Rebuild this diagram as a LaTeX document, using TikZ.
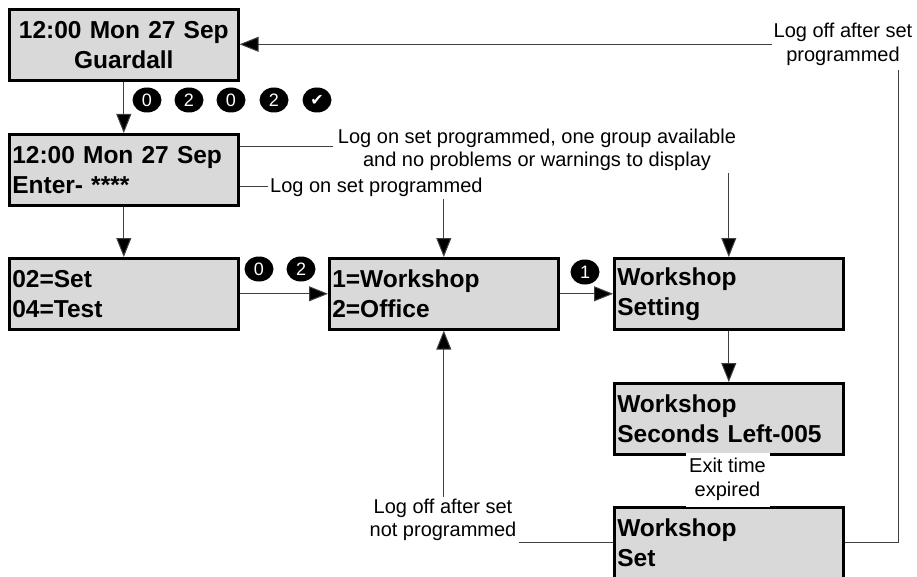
\documentclass[tikz,border=0pt]{standalone}
\usepackage{fontspec}
\setmainfont{Liberation Sans}
\newfontfamily\symfont{DejaVu Sans}
\usetikzlibrary{arrows.meta,shapes.geometric,calc}
\definecolor{boxgray}{HTML}{D9D9D9}
\definecolor{linegray}{HTML}{404040}
\begin{document}
\begin{tikzpicture}[x=1pt,y=-1pt,
  lcd/.style={draw=black, line width=2.6pt, fill=boxgray, minimum width=229pt, minimum height=71pt,
    text width=223pt, inner xsep=3pt, inner ysep=0pt, align=left,
    font=\fontsize{24.5}{30}\selectfont\bfseries, anchor=north west},
  lab/.style={font=\fontsize{20}{23.5}\selectfont, align=center, inner sep=2pt},
  conn/.style={draw=linegray, line width=1pt},
  arr/.style={conn, -{Triangle[length=19pt,width=15pt,fill=black]}},
  key/.style={ellipse, fill=black, text=white, minimum width=29pt, minimum height=25pt,
    inner sep=0pt, font=\fontsize{18}{18}\selectfont}
]
\useasboundingbox (0,0) rectangle (917,577);

% display boxes
\node[lcd, align=center] (b1) at (8,8) {12:00 Mon 27 Sep\\Guardall};
\node[lcd] (b2) at (8,133) {12:00 Mon 27 Sep\\Enter- ****};
\node[lcd] (b3) at (8,257) {02=Set\\04=Test};
\node[lcd] (b4) at (328,257) {1=Workshop\\2=Office};
\node[lcd] (b5) at (613,257) {Workshop\\Setting};
\node[lcd] (b6) at (613,382) {Workshop\\Seconds Left-005};
\node[lcd] (b7) at (613,506) {Workshop\\Set};

% labels
\node[lab] (l1) at (843,44.3) {Log off after set\\programmed};
\node[lab] (l2) at (537,149.8) {Log on set programmed, one group available\\and no problems or warnings to display};
\node[lab, anchor=west] (l3) at (268,187) {Log on set programmed};
\node[lab] (l4) at (443,519.8) {Log off after set\\not programmed};
\node[lab, fill=white, minimum width=84pt, minimum height=54pt] (l5) at (727.5,479.5) {Exit time\\expired};

% keys
\node[key] (k1) at (147,100) {0};
\node[key] (k2) at (189,100) {2};
\node[key] (k3) at (231,100) {0};
\node[key] (k4) at (274,100) {2};
\node[key] (k5) at (317,100) {\symfont\fontsize{16}{16}\selectfont ✔};
\node[key] (k6) at (259,269) {0};
\node[key] (k7) at (301,269) {2};
\node[key] (k8) at (585,272) {1};

% connectors
\draw[arr] (b1) -- (b2);
\draw[arr] (b2) -- (b3);
\draw[arr] (b3) -- (b4);
\draw[arr] (b4) -- (b5);
\draw[arr] (b5) -- (b6);
\draw[conn] (b2.east |- l3.west) -- (l3.west);
\draw[arr] (l3.south -| b4.north) -- (b4.north);
\draw[conn] ($(b2.north east)+(0,14)$) -- ($(l2.west |- b2.north east)+(-3,14)$);
\draw[arr] (l2.south -| b5.north) -- (b5.north);
\draw[arr] (l4.north -| b4.south) -- (b4.south);
\draw[conn] (b7.west) -- (b7.west -| l4.east);
\draw[conn] (b7.east) -| ($(l1.south)+(55,2)$);
\draw[arr] (l1.west) -- (l1.west -| b1.east);
\end{tikzpicture}
\end{document}
